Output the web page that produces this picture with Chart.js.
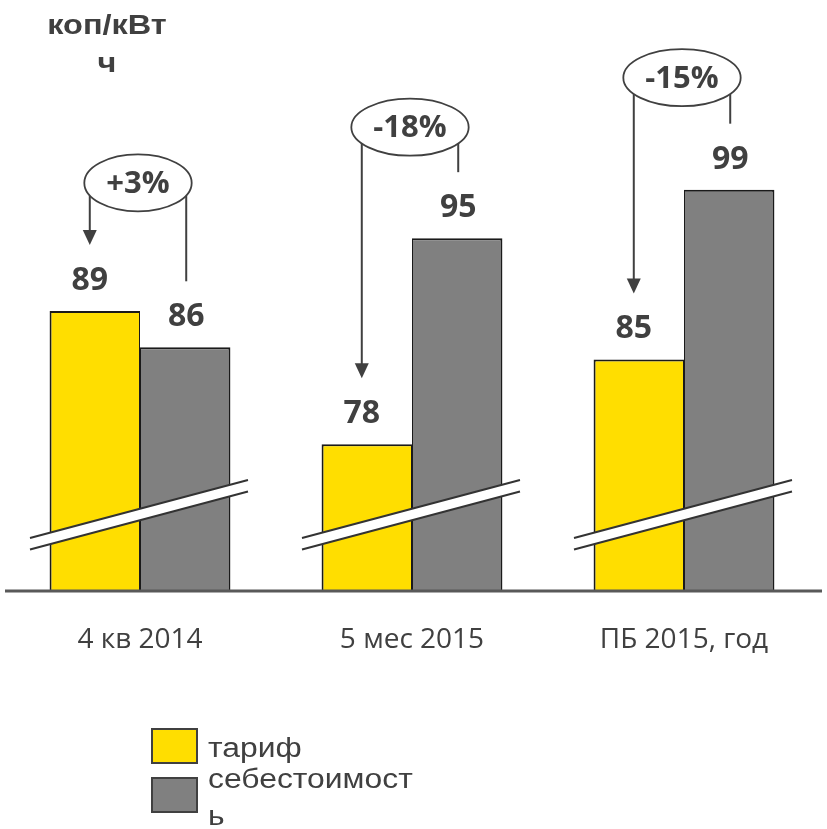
<!DOCTYPE html>
<html>
<head>
<meta charset="utf-8">
<script src="https://cdn.jsdelivr.net/npm/chart.js@4.4.1/dist/chart.umd.min.js"></script>
<style>
  html, body { margin: 0; padding: 0; background: #fff; }
  #wrap { width: 827px; height: 829px; }
</style>
</head>
<body>
<div id="wrap"><canvas id="chart" width="827" height="829"></canvas></div>
<script>
// data
const categories = ['4 кв 2014', '5 мес 2015', 'ПБ 2015, год'];
const seriesNames = ['тариф', 'себестоимость'];
const tariff = [89, 78, 85];
const cost = [86, 95, 99];
const changeLabels = ['+3%', '-18%', '-15%'];
const unitLines = ['коп/кВт', 'ч'];

// axis is broken, so it starts well above zero
const yMin = 65.9;
const yMax = 112.5;

const TEXT = '#404040';
const YELLOW = '#FFDE00';
const GREY = '#808080';

// how far each change bubble sits above the taller bar
const bubbleLift = [128, 111, 112];

function stretchText(ctx, str, x, y, sx, align) {
    ctx.save();
    ctx.translate(x, y);
    ctx.scale(sx, 1);
    ctx.textAlign = align;
    ctx.fillText(str, 0, 0);
    ctx.restore();
}

function wrapChars(ctx, str, maxW, sx) {
    const lines = [];
    let cur = '';
    for (const ch of str) {
        if (cur && ctx.measureText(cur + ch).width * sx > maxW) {
            lines.push(cur);
            cur = ch;
        } else {
            cur += ch;
        }
    }
    if (cur) lines.push(cur);
    return lines;
}

const decorations = {
    id: 'decorations',
    afterDatasetsDraw(chart) {
        const ctx = chart.ctx;
        const area = chart.chartArea;
        const yellowBars = chart.getDatasetMeta(0).data;
        const greyBars = chart.getDatasetMeta(1).data;

        ctx.save();

        // axis break marks across each pair of bars
        const slope = 58 / 218;
        const gap = 11.5;
        yellowBars.forEach((bar, i) => {
            const cx = (bar.x + greyBars[i].x) / 2;
            const yc = area.bottom - 82.3;
            const x0 = cx - 110, x1 = cx + 108;
            const y0 = yc + slope * (cx - x0);
            const y1 = yc - slope * (x1 - cx);
            ctx.beginPath();
            ctx.moveTo(x0, y0);
            ctx.lineTo(x1, y1);
            ctx.lineTo(x1, y1 + gap);
            ctx.lineTo(x0, y0 + gap);
            ctx.closePath();
            ctx.fillStyle = '#fff';
            ctx.fill();
            ctx.strokeStyle = '#333';
            ctx.lineWidth = 2;
            ctx.beginPath();
            ctx.moveTo(x0, y0);
            ctx.lineTo(x1, y1);
            ctx.moveTo(x0, y0 + gap);
            ctx.lineTo(x1, y1 + gap);
            ctx.stroke();
        });

        // base line
        ctx.strokeStyle = '#595959';
        ctx.lineWidth = 3;
        ctx.beginPath();
        ctx.moveTo(area.left + 1, area.bottom);
        ctx.lineTo(area.right + 2, area.bottom);
        ctx.stroke();

        // value labels
        ctx.fillStyle = TEXT;
        ctx.font = 'bold 32px "Open Sans"';
        ctx.textAlign = 'center';
        ctx.textBaseline = 'alphabetic';
        yellowBars.forEach((bar, i) => {
            ctx.fillText(String(tariff[i]), bar.x - 5, bar.y - 21);
            const g = greyBars[i];
            ctx.fillText(String(cost[i]), g.x + 1, g.y - 21);
        });

        // change bubbles with arrows
        yellowBars.forEach((bar, i) => {
            const g = greyBars[i];
            const lx = bar.x - 5;
            const rx = g.x + 1;
            const cx = (bar.x + g.x) / 2 - 2;
            const cy = Math.min(bar.y, g.y) - bubbleLift[i];
            ctx.font = 'bold 31px "Open Sans"';
            const tw = ctx.measureText(changeLabels[i]).width;
            const ex = tw / 2 + 22;
            const ey = 28.5;
            const rim = (x) => cy + ey * Math.sqrt(Math.max(0, 1 - Math.pow((x - cx) / ex, 2)));

            ctx.strokeStyle = TEXT;
            ctx.fillStyle = TEXT;
            ctx.lineWidth = 2;
            const tipY = bar.y - 66;
            ctx.beginPath();
            ctx.moveTo(lx, rim(lx));
            ctx.lineTo(lx, tipY - 12);
            ctx.stroke();
            ctx.beginPath();
            ctx.moveTo(lx, tipY);
            ctx.lineTo(lx - 7, tipY - 15);
            ctx.lineTo(lx + 7, tipY - 15);
            ctx.closePath();
            ctx.fill();

            ctx.beginPath();
            ctx.moveTo(rx, rim(rx));
            ctx.lineTo(rx, g.y - 66);
            ctx.stroke();

            ctx.beginPath();
            ctx.ellipse(cx, cy, ex, ey, 0, 0, Math.PI * 2);
            ctx.fillStyle = '#fff';
            ctx.fill();
            ctx.lineWidth = 1.8;
            ctx.stroke();
            ctx.fillStyle = TEXT;
            ctx.textBaseline = 'middle';
            ctx.fillText(changeLabels[i], cx, cy + 1);
            ctx.textBaseline = 'alphabetic';
        });

        // unit caption top left
        ctx.fillStyle = TEXT;
        ctx.font = 'bold 28px "Liberation Sans"';
        stretchText(ctx, unitLines[0], 107, 34, 1.16, 'center');
        stretchText(ctx, unitLines[1], 107, 72, 1.16, 'center');

        // legend
        const boxTop = [729, 778];
        const textTop = [757, 788];
        chart.data.datasets.forEach((ds, i) => {
            ctx.fillStyle = ds.backgroundColor;
            ctx.fillRect(152, boxTop[i], 45, 34);
            ctx.strokeStyle = '#404040';
            ctx.lineWidth = 2;
            ctx.strokeRect(152, boxTop[i], 45, 34);
            ctx.fillStyle = TEXT;
            ctx.font = '27px "Liberation Sans"';
            const lines = wrapChars(ctx, ds.label, 212, 1.18);
            lines.forEach((ln, k) => stretchText(ctx, ln, 208, textTop[i] + k * 37, 1.18, 'left'));
        });

        ctx.restore();
    }
};

const ctx = document.getElementById('chart').getContext('2d');
const chart = new Chart(ctx, {
    type: 'bar',
    data: {
        labels: categories,
        datasets: [
            {
                label: seriesNames[0],
                data: tariff,
                backgroundColor: YELLOW,
                borderColor: '#1a1a1a',
                borderWidth: { top: 2, left: 2, right: 1, bottom: 0 },
                borderSkipped: false,
                base: yMin
            },
            {
                label: seriesNames[1],
                data: cost,
                backgroundColor: GREY,
                borderColor: '#1a1a1a',
                borderWidth: { top: 2, left: 1, right: 2, bottom: 0 },
                borderSkipped: false,
                base: yMin
            }
        ]
    },
    options: {
        responsive: false,
        animation: false,
        datasets: {
            bar: { barPercentage: 1, categoryPercentage: 0.665 }
        },
        layout: { padding: { top: 26, left: 4, right: 7, bottom: 0 } },
        plugins: {
            legend: { display: false },
            tooltip: { enabled: false }
        },
        scales: {
            x: {
                grid: { display: false, drawTicks: false },
                border: { display: false },
                ticks: {
                    color: TEXT,
                    font: { family: '"Open Sans"', size: 28 },
                    padding: 32,
                    maxRotation: 0
                },
                afterFit(scale) { scale.height = 238; }
            },
            y: {
                display: false,
                min: yMin,
                max: yMax
            }
        }
    },
    plugins: [decorations]
});
</script>
</body>
</html>
